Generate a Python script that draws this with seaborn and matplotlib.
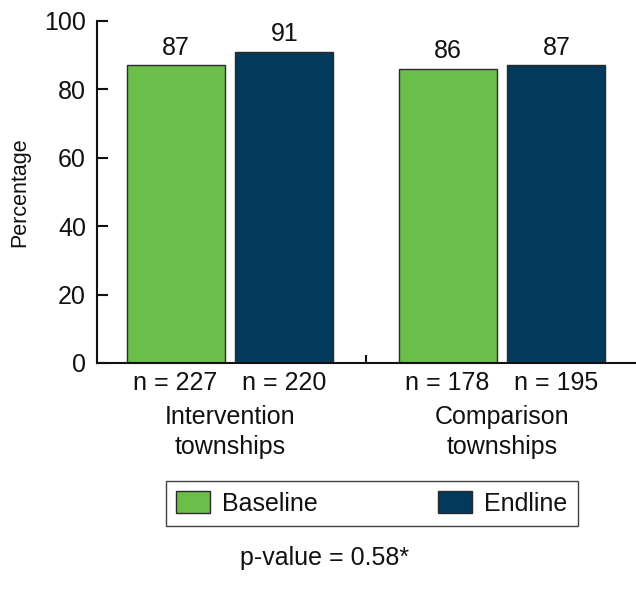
import matplotlib
matplotlib.use("Agg")
import matplotlib.pyplot as plt
import seaborn as sns
import pandas as pd

# ---- data ----
groups = ["Intervention\ntownships", "Comparison\ntownships"]
periods = ["Baseline", "Endline"]
baseline_values = [87, 86]
endline_values = [91, 87]
baseline_n = [227, 178]
endline_n = [220, 195]
y_ticks = [0, 20, 40, 60, 80, 100]
y_label = "Percentage"
p_value_text = "p-value = 0.58*"

colors = {"Baseline": "#6CBE4A", "Endline": "#033A5B"}

df = pd.DataFrame({
    "group": groups * 2,
    "period": [periods[0]] * len(groups) + [periods[1]] * len(groups),
    "value": baseline_values + endline_values,
    "n": baseline_n + endline_n,
})

sns.set_theme(style="white")
plt.rcParams["font.family"] = ["Liberation Sans", "DejaVu Sans"]
FS = 18

fig = plt.figure(figsize=(6.36, 5.90), dpi=100)
ax = fig.add_axes([97 / 636, 227 / 590, 539 / 636, 342 / 590])

sns.barplot(data=df, x="group", y="value", hue="period", order=groups,
            hue_order=periods, palette=colors, width=0.8, gap=0.1,
            edgecolor="#2a2a2a", linewidth=1, saturation=1, ax=ax,
            errorbar=None)

handles, labels = ax.get_legend_handles_labels()
if ax.legend_ is not None:
    ax.legend_.remove()

# value labels
for cont in ax.containers:
    ax.bar_label(cont, fmt="%d", padding=4, fontsize=FS, color="#111111")

# n labels under each bar
for cont, period in zip(ax.containers, periods):
    sub = df[df["period"] == period].set_index("group").loc[groups]
    for bar, n in zip(cont.patches, sub["n"]):
        xc = bar.get_x() + bar.get_width() / 2
        ax.annotate(f"n = {n}", xy=(xc, 0), xycoords=("data", "axes fraction"),
                    xytext=(0, -14.5), textcoords="offset points",
                    ha="center", va="center", fontsize=FS, color="#111111")

# group labels
for i, g in enumerate(groups):
    ax.annotate(g, xy=(i, 0), xycoords=("data", "axes fraction"),
                xytext=(0, -50), textcoords="offset points",
                ha="center", va="center", fontsize=FS, color="#111111",
                linespacing=1.32)

ax.set_xlim(-0.489, 1.4926)
ax.set_ylim(0, 100)
ax.set_yticks(y_ticks)
ax.set_xticks([])
ax.set_xticks([0.5], minor=True)
ax.set_xlabel("")
ax.set_ylabel(y_label, fontsize=15.5, color="#111111", labelpad=10)
ax.tick_params(axis="y", direction="in", length=8, width=1.5, pad=8,
               labelsize=FS, colors="#111111", left=True)
ax.tick_params(axis="x", which="minor", direction="in", length=6, width=1.5,
               bottom=True, labelbottom=False, color="#111111")
for s in ["top", "right"]:
    ax.spines[s].set_visible(False)
for s in ["left", "bottom"]:
    ax.spines[s].set_color("#111111")
    ax.spines[s].set_linewidth(1.5)

leg = fig.legend(handles, labels, loc="center",
                 bbox_to_anchor=(372 / 636, 1 - 503.5 / 590),
                 bbox_transform=fig.transFigure, ncol=2, fontsize=FS,
                 frameon=True, fancybox=False, edgecolor="#111111",
                 handlelength=1.35, handleheight=0.95, handletextpad=0.5,
                 columnspacing=4.8, borderpad=0.4)
leg.get_frame().set_linewidth(1.0)
for t in leg.get_texts():
    t.set_color("#111111")

fig.text(325 / 636, 1 - 558 / 590, p_value_text, ha="center", va="center",
         fontsize=FS, color="#111111")

fig.savefig("out.png", dpi=100, facecolor="white")
